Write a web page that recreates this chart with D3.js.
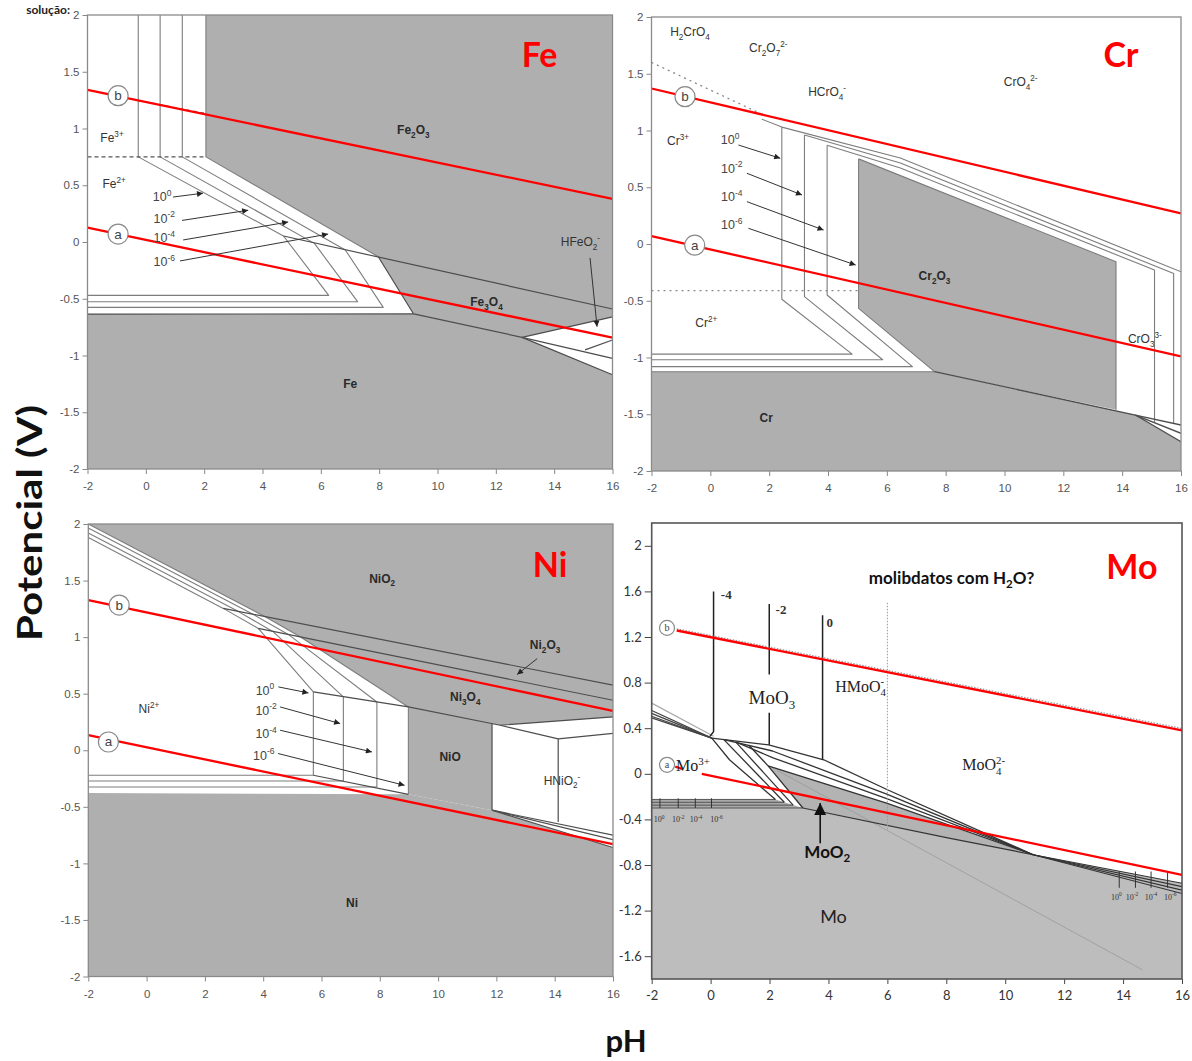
<!DOCTYPE html>
<html><head><meta charset="utf-8">
<script src="https://cdn.jsdelivr.net/npm/d3@7"></script>
<style>body{margin:0;background:#fff}svg{display:block}</style>
</head><body>
<svg id="chart" width="1192" height="1061"></svg>
<script>
// ---------- shared axes ----------
const pHTicks = [-2, 0, 2, 4, 6, 8, 10, 12, 14, 16];
const eTicks = [2, 1.5, 1, 0.5, 0, -0.5, -1, -1.5, -2];
const eTicksMo = [2, 1.6, 1.2, 0.8, 0.4, 0, -0.4, -0.8, -1.2, -1.6];
const concNames = ['10^{0}', '10^{-2}', '10^{-4}', '10^{-6}'];

// ---------- Fe ----------
const feWaterB = [[-2, 1.34], [16, 0.38]];
const feWaterA = [[-2, 0.126], [16, -0.843]];
const feSolids = [
  [[2.06, 2], [16, 2], [16, -0.66], [12.9, -0.84], [9.18, -0.634], [7.97, -0.13], [2.06, 0.75]],
  [[-2, -0.635], [9.18, -0.634], [12.9, -0.84], [16, -1.17], [16, -2], [-2, -2]]
];
const feBounds = [
  [[4.72, 0.053], [16, -0.59]],
  [[7.97, -0.13], [9.18, -0.634], [12.9, -0.84], [16, -1.025]],
  [[12.9, -0.84], [16, -0.66]],
  [[15.06, -0.95], [16, -0.863]],
  [[12.9, -0.84], [16, -1.17]],
  [[-2, -0.635], [9.18, -0.634]]
];
const feConc = [
  [[-0.26, 2], [-0.26, 0.75], [4.72, 0.053], [6.27, -0.47], [-2, -0.47]],
  [[0.49, 2], [0.49, 0.75], [5.78, -0.012], [7.26, -0.526], [-2, -0.526]],
  [[1.25, 2], [1.25, 0.75], [6.84, -0.07], [8.14, -0.576], [-2, -0.576]],
  [[2.06, 2], [2.06, 0.75], [7.97, -0.13]]
];
const feDashed = [[[-2, 0.75], [2.06, 0.75]], [[-0.26, 1.245], [2.0, 1.135]]];
const feArrows = [
  [[0.93, 0.396], [1.96, 0.43]], [[1.24, 0.19], [3.51, 0.28]],
  [[1.28, 0.018], [4.88, 0.176]], [[1.17, -0.167], [6.25, 0.07]],
  [[15.23, -0.14], [15.47, -0.746]]
];
const feConcAt = [[0.56, 0.396], [0.63, 0.21], [0.63, 0.035], [0.63, -0.176]];
const feSpecies = [
  ['Fe_2O_3', 9.17, 0.987, 'solid'], ['Fe_3O_4', 11.68, -0.529, 'solid'], ['Fe', 7.01, -1.25, 'solid'],
  ['Fe^{3+}', -1.16, 0.916, 'ion'], ['Fe^{2+}', -1.09, 0.51, 'ion'], ['HFeO_2^{-}', 14.9, 0.0, 'ion']
];
const feCircles = [['b', -0.95, 1.289], ['a', -0.95, 0.07]];
const feTitle = ['Fe', 13.5, 1.65];

// ---------- Cr ----------
const crWaterB = [[-2, 1.37], [16, 0.27]];
const crWaterA = [[-2, 0.07], [16, -0.99]];
const crSolids = [
  [[5.04, 0.75], [13.79, -0.156], [13.79, -1.46], [7.62, -1.125], [5.04, -0.567]],
  [[-2, -1.125], [7.62, -1.125], [14.45, -1.507], [16, -1.742], [16, -2], [-2, -2]]
];
const crBounds = [
  [[7.62, -1.125], [14.45, -1.507], [16, -1.595]],
  [[14.45, -1.507], [16, -1.668]],
  [[14.45, -1.507], [16, -1.742]]
];
const crConc = [
  [[1.75, 1.1], [2.43, 1.03], [6.46, 0.757], [16, -0.245]],
  [[2.43, 1.03], [2.43, -0.487], [4.82, -0.97], [-2, -0.97]],
  [[3.2, 0.96], [6.46, 0.713], [15.75, -0.26], [15.75, -1.58]],
  [[3.2, 0.96], [3.2, -0.464], [5.86, -1.02], [-2, -1.02]],
  [[3.97, 0.87], [6.46, 0.67], [15.1, -0.23], [15.1, -1.575]],
  [[3.97, 0.87], [3.97, -0.449], [6.87, -1.08], [-2, -1.08]],
  [[5.04, 0.75], [13.79, -0.156], [13.79, -1.46]],
  [[5.04, 0.75], [5.04, -0.567], [7.62, -1.125], [-2, -1.125]]
];
const crDotted = [[[-2, 1.6], [1.7, 1.15]], [[-2, -0.41], [5.04, -0.41]]];
const crArrows = [
  [[0.956, 0.872], [2.377, 0.755]], [[1.243, 0.623], [3.116, 0.432]],
  [[1.243, 0.373], [3.85, 0.123]], [[1.297, 0.138], [4.94, -0.185]]
];
const crConcAt = [[0.67, 0.916], [0.73, 0.667], [0.73, 0.417], [0.73, 0.167]];
const crSpecies = [
  ['H_2CrO_4', -0.69, 1.868, 'ion'], ['Cr_2O_7^{2-}', 1.97, 1.727, 'ion'], ['HCrO_4^{-}', 3.97, 1.339, 'ion'],
  ['CrO_4^{2-}', 10.55, 1.427, 'ion'], ['Cr^{3+}', -1.1, 0.907, 'ion'], ['Cr^{2+}', -0.14, -0.696, 'ion'],
  ['Cr_2O_3', 7.62, -0.282, 'solid'], ['Cr', 1.9, -1.533, 'solid'], ['CrO_3^{3-}', 14.77, -0.837, 'ion']
];
const crCircles = [['b', -0.86, 1.298], ['a', -0.53, -0.01]];
const crTitle = ['Cr', 13.96, 1.665];

// ---------- Ni ----------
const niWaterB = [[-2, 1.327], [16, 0.348]];
const niWaterA = [[-2, 0.133], [16, -0.83]];
const niSolids = [
  [[-2, 2], [16, 2], [16, 0.295], [12.13, 0.221], [8.98, 0.383], [5.27, 1.003], [4.07, 1.18], [-2, 2.0]],
  [[8.98, 0.383], [11.85, 0.236], [11.85, -0.53], [8.98, -0.39]],
  [[-2, -0.378], [8.98, -0.39], [11.85, -0.53], [16, -0.86], [16, -2], [-2, -2]]
];
const niBounds = [
  [[2.63, 1.254], [16, 0.575]],
  [[3.83, 1.077], [16, 0.442]],
  [[5.72, 0.516], [8.98, 0.383], [12.13, 0.221], [16, 0.295]],
  [[5.72, -0.221], [8.98, -0.39]],
  [[12.13, 0.221], [14.12, 0.1], [16, 0.15]],
  [[11.85, 0.236], [11.85, -0.53]],
  [[14.12, 0.1], [14.12, -0.635]],
  [[11.85, -0.53], [16, -0.75]],
  [[11.85, -0.53], [16, -0.79]],
  [[11.85, -0.53], [16, -0.86]]
];
const niConc = [
  [[-2, 1.88], [2.63, 1.254], [3.83, 1.077], [5.72, 0.516], [5.72, -0.221], [-2, -0.221]],
  [[-2, 1.92], [3.12, 1.23], [4.33, 1.05], [6.75, 0.472], [6.75, -0.272], [-2, -0.272]],
  [[-2, 1.965], [3.65, 1.202], [4.86, 1.024], [7.9, 0.427], [7.9, -0.325], [-2, -0.325]],
  [[-2, 2.0], [4.07, 1.18], [5.27, 1.003], [8.98, 0.383], [8.98, -0.39]]
];
const niArrows = [
  [[4.52, 0.56], [5.55, 0.507]], [[4.58, 0.383], [6.64, 0.236]],
  [[4.58, 0.177], [7.73, -0.015]], [[4.51, -0.029], [8.85, -0.31]],
  [[13.4, 0.81], [12.71, 0.67]]
];
const niConcAt = [[4.06, 0.53], [4.1, 0.354], [4.1, 0.148], [4.02, -0.044]];
const niSpecies = [
  ['NiO_2', 8.08, 1.52, 'solid'], ['Ni_2O_3', 13.67, 0.93, 'solid'], ['Ni_3O_4', 10.93, 0.47, 'solid'],
  ['NiO', 10.41, -0.06, 'solid'], ['HNiO_2^{-}', 14.25, -0.27, 'ion'], ['Ni^{2+}', 0.08, 0.363, 'ion'],
  ['Ni', 7.05, -1.345, 'solid']
];
const niCircles = [['b', -0.94, 1.283], ['a', -1.31, 0.073]];
const niTitle = ['Ni', 13.84, 1.637];

// ---------- Mo ----------
const moWaterB = [[-1.15, 1.257], [16, 0.38]];
const moWaterBTrace = [[-1.15, 1.272], [16, 0.398]];
const moWaterA = [[-0.3, 0.0], [16, -0.886]];
const moWaterAShort = [[-1.2, 0.063], [-0.97, 0.044]];
const moMetal = [[-2, -0.30], [3.13, -0.30], [8.09, -0.564], [10.95, -0.71], [16, -0.96], [16, -1.8], [-2, -1.8]];
const moBand = [[-2, -0.225], [2.2, -0.225], [3.13, -0.30], [-2, -0.30]];
const moDioxide = [[1.95, 0.07], [6.0, -0.26], [10.95, -0.71], [8.09, -0.564], [3.13, -0.30]];
const moAcidBundle = [
  [[-2, 0.555], [0.04, 0.313]], [[-2, 0.53], [0.04, 0.313]],
  [[-2, 0.505], [0.04, 0.313]], [[-2, 0.49], [0.04, 0.313]]
];
const moFaint = [[[-2, 0.62], [0.1, 0.33]], [[2.26, 0.03], [14.66, -1.72]]];
const moSteep = [
  [[0.04, 0.313], [0.64, 0.123], [2.2, -0.225]],
  [[0.45, 0.3], [2.5, -0.25]],
  [[0.85, 0.28], [2.8, -0.275]],
  [[1.3, 0.25], [1.95, 0.07], [3.13, -0.30]]
];
const moUpper = [
  [[0.04, 0.313], [1.97, 0.254], [3.84, 0.123], [6.0, -0.14], [10.95, -0.71]],
  [[0.45, 0.3], [2.1, 0.2], [6.0, -0.18], [10.95, -0.71]],
  [[0.85, 0.28], [2.12, 0.14], [6.0, -0.22], [10.95, -0.71]],
  [[1.95, 0.07], [6.0, -0.26], [10.95, -0.71]]
];
const moLower = [
  [[3.13, -0.30], [8.09, -0.564], [10.95, -0.71], [16, -0.96]],
  [[10.95, -0.71], [16, -0.99]], [[10.95, -0.71], [16, -1.02]], [[10.95, -0.71], [16, -1.05]]
];
const moShelf = [
  [[-2, -0.225], [2.2, -0.225]], [[-2, -0.25], [2.5, -0.25]],
  [[-2, -0.275], [2.8, -0.275]], [[-2, -0.30], [3.13, -0.30]]
];
const moIsoLines = [
  [[0.1, 1.6], [0.1, 0.37], [-0.02, 0.33]],
  [[1.99, 1.49], [1.99, 0.87]], [[1.99, 0.535], [1.99, 0.254]],
  [[3.8, 1.39], [3.8, 0.123]]
];
const moIsoNames = [['-4', 0.53, 1.57], ['-2', 2.39, 1.445], ['0', 4.04, 1.33]];
const moHydrate = [[6.0, 1.5], [6.0, -0.49]];
const moMarksLeft = [-1.72, -1.1, -0.52, 0.03];
const moMarksRight = [13.87, 14.42, 14.95, 15.51];
const moMarkNamesLeft = [-1.75, -1.1, -0.5, 0.2];
const moMarkNamesRight = [13.77, 14.3, 14.95, 15.6];
const moArrow = [[3.72, -0.61], [3.72, -0.257]];
const moSpecies = [
  ['MoO_3', 2.08, 0.675, 'serifL'], ['HMoO_4&^{-}', 5.09, 0.77, 'serif'],
  ['MoO_4&^{2-}', 9.27, 0.08, 'serif'], ['Mo^{3+}', -0.6, 0.07, 'serif'],
  ['Mo', 4.17, -1.254, 'sans'], ['MoO_2', 3.96, -0.684, 'sansBold'],
  ['molibdatos  com H_2O?', 8.18, 1.72, 'note']
];
const moCircles = [['b', -1.48, 1.28], ['a', -1.48, 0.079]];
const moTitle = ['Mo', 14.3, 1.816];

// ---------- drawing ----------
const svg = d3.select('#chart');
const defs = svg.append('defs');
function marker(id, w, h, color) {
  defs.append('marker').attr('id', id).attr('viewBox', '0 0 10 10')
    .attr('refX', 10).attr('refY', 5).attr('markerWidth', w).attr('markerHeight', h)
    .attr('markerUnits', 'userSpaceOnUse').attr('orient', 'auto')
    .append('path').attr('d', 'M0,0L10,5L0,10Z').attr('fill', color);
}
marker('tip', 10, 6, '#222');
marker('tipBig', 13, 12, '#111');

function parseRich(s) {
  const out = []; let buf = ''; let i = 0;
  const flush = () => { if (buf) { out.push({ t: buf, m: 'n' }); buf = ''; } };
  while (i < s.length) {
    const c = s[i];
    if (c === '_' || c === '^') {
      flush();
      let t;
      if (s[i + 1] === '{') { const j = s.indexOf('}', i + 2); t = s.slice(i + 2, j); i = j + 1; }
      else { t = s[i + 1]; i += 2; }
      out.push({ t, m: c === '_' ? 'sub' : 'sup' });
    } else if (c === '&') { flush(); out.push({ stack: true }); i++; }
    else { buf += c; i++; }
  }
  flush();
  return out;
}
function richText(sel, str, size) {
  let cur = 0, prev = null, stack = false;
  parseRich(str).forEach(p => {
    if (p.stack) { stack = true; return; }
    const off = p.m === 'sub' ? size * 0.28 : p.m === 'sup' ? -size * 0.42 : 0;
    const ts = sel.append('tspan').attr('dy', (off - cur).toFixed(2))
      .attr('font-size', p.m === 'n' ? size : size * 0.68).text(p.t);
    if (stack && prev) { ts.attr('dx', -prev.node().getComputedTextLength()); stack = false; }
    cur = off; prev = ts;
  });
}

const speciesStyle = {
  solid: { font: 'Liberation Sans, Arial, sans-serif', size: 12, weight: 'bold', color: '#2a2a2a' },
  ion: { font: 'Liberation Sans, Arial, sans-serif', size: 12, weight: 'normal', color: '#333' },
  serif: { font: 'Liberation Serif, Times New Roman, serif', size: 16, weight: 'normal', color: '#222' },
  serifL: { font: 'Liberation Serif, Times New Roman, serif', size: 19, weight: 'normal', color: '#222' },
  sans: { font: 'Lato, sans-serif', size: 18, weight: 'normal', color: '#222' },
  sansBold: { font: 'Lato, sans-serif', size: 17, weight: 'bold', color: '#111' },
  note: { font: 'Lato, sans-serif', size: 17, weight: 'bold', color: '#111' }
};

function panel(box, yDom, yTickVals, tickStyle) {
  const x = d3.scaleLinear().domain([-2, 16]).range([box.x0, box.x1]);
  const y = d3.scaleLinear().domain(yDom).range([box.y1, box.y0]);
  const id = 'clip' + Math.round(box.x0) + '_' + Math.round(box.y0);
  defs.append('clipPath').attr('id', id).append('rect')
    .attr('x', box.x0).attr('y', box.y0).attr('width', box.x1 - box.x0).attr('height', box.y1 - box.y0);
  const g = svg.append('g');
  const plot = g.append('g').attr('clip-path', `url(#${id})`);
  const top = g.append('g');
  const line = d3.line().x(d => x(d[0])).y(d => y(d[1]));
  const api = {
    x, y, g, plot, top,
    fill(pts, color) { plot.append('path').attr('d', line(pts) + 'Z').attr('fill', color); },
    path(pts, color, w, dash) {
      const p = plot.append('path').attr('d', line(pts)).attr('fill', 'none')
        .attr('stroke', color).attr('stroke-width', w).attr('stroke-linejoin', 'round');
      if (dash) p.attr('stroke-dasharray', dash);
      return p;
    },
    arrow(pts, color, w, mk) {
      top.append('path').attr('d', line(pts)).attr('fill', 'none').attr('stroke', color)
        .attr('stroke-width', w).attr('marker-end', `url(#${mk})`);
    },
    label(str, px, py, st, anchor) {
      const t = top.append('text').attr('x', x(px)).attr('y', y(py) + st.size * 0.35)
        .attr('text-anchor', anchor || 'middle').attr('font-family', st.font)
        .attr('font-weight', st.weight).attr('fill', st.color);
      richText(t, str, st.size);
      return t;
    },
    circle(letter, px, py, r, serif) {
      top.append('circle').attr('cx', x(px)).attr('cy', y(py)).attr('r', r)
        .attr('fill', '#fff').attr('stroke', '#8a8a8a').attr('stroke-width', 1.2);
      top.append('text').attr('x', x(px)).attr('y', y(py) + r * 0.45).attr('text-anchor', 'middle')
        .attr('font-family', serif ? 'Liberation Serif, serif' : 'Liberation Sans, Arial, sans-serif')
        .attr('font-size', r * 1.35).attr('fill', '#444').text(letter);
    },
    title(t) {
      top.append('text').attr('x', x(t[1])).attr('y', y(t[2]) + 12).attr('text-anchor', 'middle')
        .attr('font-family', 'Lato, sans-serif').attr('font-weight', 'bold').attr('font-size', 34)
        .attr('fill', '#ff0000').text(t[0]);
    }
  };
  plot.append('rect').attr('x', box.x0).attr('y', box.y0).attr('width', box.x1 - box.x0)
    .attr('height', box.y1 - box.y0).attr('fill', '#fff');

  // axes
  const ax = g.append('g').attr('transform', `translate(${box.x0},0)`)
    .call(d3.axisLeft(y).tickValues(yTickVals).tickSize(tickStyle.tick).tickPadding(tickStyle.padL).tickFormat(d => String(d)));
  const bx = g.append('g').attr('transform', `translate(0,${box.y1})`)
    .call(d3.axisBottom(x).tickValues(pHTicks).tickSize(5).tickPadding(tickStyle.padB).tickFormat(d => String(d)));
  [ax, bx].forEach(a => {
    a.select('.domain').remove();
    a.selectAll('line').attr('stroke', tickStyle.color);
    a.selectAll('text').attr('font-family', tickStyle.font).attr('font-size', tickStyle.size).attr('fill', tickStyle.text);
  });
  api.frame = (color, w) => g.append('rect').attr('x', box.x0).attr('y', box.y0)
    .attr('width', box.x1 - box.x0).attr('height', box.y1 - box.y0)
    .attr('fill', 'none').attr('stroke', color).attr('stroke-width', w);
  return api;
}

const GRAY = '#afafaf', CONC = '#7d7d7d', BOUND = '#4d4d4d', RED = '#ff0000';
const stdTicks = { tick: 5, padL: 3, padB: 8, color: '#888', font: 'Liberation Sans, Arial, sans-serif', size: 11.5, text: '#555' };
const moTicks = { tick: 7, padL: 3, padB: 7, color: '#444', font: 'Lato, sans-serif', size: 13, text: '#333' };

function concLabels(P, at, arrows) {
  at.forEach((p, i) => P.label(concNames[i], p[0], p[1],
    { font: 'Liberation Sans, Arial, sans-serif', size: 12.5, weight: 'normal', color: '#444' }));
  arrows.forEach(a => P.arrow(a, '#333', 1, 'tip'));
}
function species(P, list) { list.forEach(s => P.label(s[0], s[1], s[2], speciesStyle[s[3]])); }

// Fe
{
  const P = panel({ x0: 87.5, x1: 612.5, y0: 15, y1: 469 }, [-2, 2], eTicks, stdTicks);
  feSolids.forEach(s => P.fill(s, GRAY));
  feConc.forEach(c => P.path(c, CONC, 1.1));
  feBounds.forEach(b => P.path(b, BOUND, 1.2));
  feDashed.forEach(d => P.path(d, '#555', 1.1, '4,3'));
  P.path(feWaterB, RED, 2.3); P.path(feWaterA, RED, 2.3);
  P.frame('#8a8a8a', 1.3);
  feCircles.forEach(c => P.circle(c[0], c[1], c[2], 10));
  concLabels(P, feConcAt, feArrows);
  species(P, feSpecies);
  P.title(feTitle);
}
// Cr
{
  const P = panel({ x0: 651.5, x1: 1181, y0: 17, y1: 471 }, [-2, 2], eTicks, stdTicks);
  crSolids.forEach(s => P.fill(s, GRAY));
  crConc.forEach(c => P.path(c, CONC, 1.1));
  crBounds.forEach(b => P.path(b, BOUND, 1.3));
  crDotted.forEach(d => P.path(d, '#888', 1.3, '2,4'));
  P.path(crWaterB, RED, 2.3); P.path(crWaterA, RED, 2.3);
  P.frame('#8a8a8a', 1.3);
  crCircles.forEach(c => P.circle(c[0], c[1], c[2], 10));
  concLabels(P, crConcAt, crArrows);
  species(P, crSpecies);
  P.title(crTitle);
}
// Ni
{
  const P = panel({ x0: 88.3, x1: 613, y0: 524, y1: 976.5 }, [-2, 2], eTicks, stdTicks);
  niSolids.forEach(s => P.fill(s, GRAY));
  niConc.forEach(c => P.path(c, CONC, 1.1));
  niBounds.forEach(b => P.path(b, BOUND, 1.2));
  P.path(niWaterB, RED, 2.3); P.path(niWaterA, RED, 2.3);
  P.frame('#8a8a8a', 1.3);
  niCircles.forEach(c => P.circle(c[0], c[1], c[2], 10));
  concLabels(P, niConcAt, niArrows);
  species(P, niSpecies);
  P.title(niTitle);
}
// Mo
{
  const P = panel({ x0: 651.7, x1: 1182, y0: 523, y1: 979 }, [-1.8, 2.2], eTicksMo, moTicks);
  P.fill(moMetal, '#bdbdbd');
  P.fill(moBand, '#a9a9a9');
  P.fill(moDioxide, '#b3b3b3');
  P.path(moFaint[0], '#aaa', 1.2);
  P.path(moFaint[1], '#999', 0.8);
  moAcidBundle.forEach(l => P.path(l, '#444', 1.2));
  moShelf.forEach(l => P.path(l, '#555', 1));
  moSteep.forEach(l => P.path(l, '#333', 1.3));
  moUpper.forEach(l => P.path(l, '#333', 1.3));
  moLower.forEach(l => P.path(l, '#333', 1.2));
  moIsoLines.forEach(l => P.path(l, '#222', 1.5));
  P.path(moHydrate, '#999', 1, '1.5,1.5');
  moMarksLeft.forEach(v => P.path([[v, -0.215], [v, -0.3]], '#333', 1));
  moMarksRight.forEach(v => P.path([[v, -0.857], [v, -1.0]], '#333', 1));
  P.path(moWaterBTrace, '#999', 1.2, '1.5,1.5');
  P.path(moWaterB, RED, 2.3); P.path(moWaterA, RED, 2.3); P.path(moWaterAShort, RED, 2.3);
  P.frame('#555', 1.6);
  moCircles.forEach(c => P.circle(c[0], c[1], c[2], 7.5, true));
  const tiny = { font: 'Liberation Serif, serif', size: 8, weight: 'normal', color: '#333' };
  moMarkNamesLeft.forEach((v, i) => P.label(concNames[i], v, -0.4, tiny));
  moMarkNamesRight.forEach((v, i) => P.label(concNames[i], v, -1.08, tiny));
  const isoSt = { font: 'Liberation Serif, serif', size: 13, weight: 'bold', color: '#333' };
  moIsoNames.forEach(n => P.label(n[0], n[1], n[2], isoSt));
  species(P, moSpecies);
  P.arrow(moArrow, '#111', 1.6, 'tipBig');
  P.title(moTitle);
}

// shared axis titles
svg.append('text').attr('transform', 'translate(42,523) rotate(-90)').attr('text-anchor', 'middle')
  .attr('font-family', 'Lato, sans-serif').attr('font-weight', 'bold').attr('font-size', 35)
  .attr('textLength', 236).attr('lengthAdjust', 'spacingAndGlyphs')
  .attr('fill', '#111').text('Potencial (V)');
svg.append('text').attr('x', 626).attr('y', 1052).attr('text-anchor', 'middle')
  .attr('font-family', 'Lato, sans-serif').attr('font-weight', 'bold').attr('font-size', 31)
  .attr('fill', '#111').text('pH');
svg.append('text').attr('x', 70).attr('y', 14).attr('text-anchor', 'end')
  .attr('font-family', 'Lato, sans-serif').attr('font-weight', 'bold').attr('font-size', 12)
  .attr('fill', '#222').text('solução:');
</script>
</body></html>
